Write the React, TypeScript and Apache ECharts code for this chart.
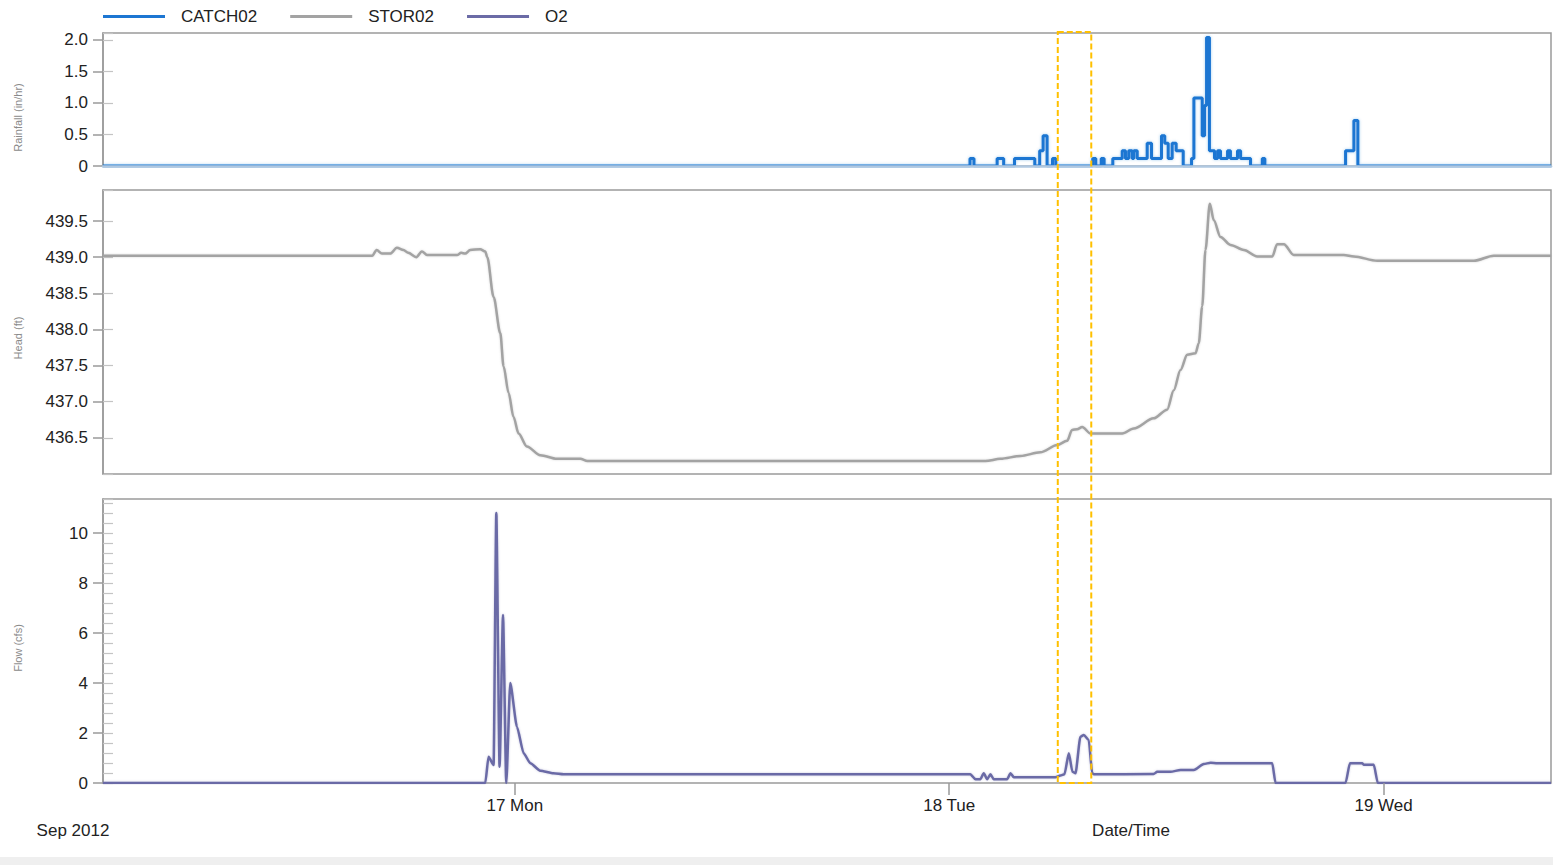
import React, { useEffect, useRef } from "react";
import * as echarts from "echarts";

// Time is expressed in hours from 2012-09-16 00:00
const X_MIN = 1.25;
const X_MAX = 81.25;
const dayTickHours = [24, 48, 72];
const dayTickLabels = ["17 Mon", "18 Tue", "19 Wed"];
const monthLabel = "Sep 2012";
const xAxisTitle = "Date/Time";

const seriesNames = ["CATCH02", "STOR02", "O2"];
const axisNames = ["Rainfall (in/hr)", "Head (ft)", "Flow (cfs)"];

const rainTicks = [0, 0.5, 1.0, 1.5, 2.0];
const headTicks = [436.5, 437.0, 437.5, 438.0, 438.5, 439.0, 439.5];
const flowTicks = [0, 2, 4, 6, 8, 10];

// CATCH02 rainfall (in/hr), step changes [hour, value]
const rainfall = [
  [1.25, 0], [49.15, 0.12], [49.37, 0], [50.65, 0.12], [51.01, 0], [51.61, 0.12], [52.73, 0],
  [53.0, 0.24], [53.19, 0.48], [53.41, 0], [53.71, 0.12], [53.89, 0], [55.93, 0.12], [56.1, 0],
  [56.4, 0.12], [56.56, 0], [57.04, 0.12], [57.56, 0.24], [57.74, 0.12], [57.92, 0.24], [58.11, 0.12],
  [58.2, 0.24], [58.39, 0.12], [58.94, 0.36], [59.18, 0.12], [59.73, 0.48], [59.91, 0.36], [60.1, 0.12],
  [60.32, 0.36], [60.54, 0.24], [60.93, 0], [61.39, 0.12], [61.52, 1.08], [61.98, 0.48], [62.11, 0.96],
  [62.22, 2.04], [62.38, 0.24], [62.66, 0.12], [62.83, 0.24], [62.99, 0.12], [63.38, 0.24], [63.54, 0.12],
  [63.93, 0.24], [64.1, 0.12], [64.65, 0], [65.3, 0.12], [65.44, 0], [69.9, 0.24], [70.36, 0.72],
  [70.58, 0], [81.25, 0],
];

// STOR02 head (ft)
const head = [
  [1.25, 439.02], [16.12, 439.02], [16.37, 439.1], [16.66, 439.05], [17.12, 439.05], [17.49, 439.13],
  [17.85, 439.1], [18.11, 439.06], [18.56, 439.0], [18.87, 439.08], [19.15, 439.03], [20.81, 439.03],
  [21.04, 439.06], [21.26, 439.05], [21.54, 439.1], [22.09, 439.11], [22.37, 439.08], [22.48, 439.0],
  [22.83, 438.45], [23.2, 437.95], [23.38, 437.49], [23.66, 437.12], [23.93, 436.79], [24.21, 436.56],
  [24.67, 436.38], [25.41, 436.26], [26.33, 436.21], [27.62, 436.21], [28.01, 436.18], [50.0, 436.18],
  [50.83, 436.21], [51.94, 436.25], [53.04, 436.3], [53.97, 436.4], [54.52, 436.46], [54.79, 436.61],
  [55.07, 436.62], [55.35, 436.65], [55.81, 436.56], [57.56, 436.56], [58.2, 436.63], [59.3, 436.77],
  [60.04, 436.89], [60.41, 437.16], [60.78, 437.44], [61.15, 437.65], [61.61, 437.67], [61.79, 437.81],
  [61.98, 438.32], [62.16, 439.1], [62.4, 439.74], [62.62, 439.51], [62.99, 439.28], [63.54, 439.17],
  [64.28, 439.1], [65.02, 439.01], [65.85, 439.01], [66.12, 439.18], [66.49, 439.18], [67.04, 439.03],
  [69.8, 439.03], [70.36, 439.01], [71.65, 438.95], [76.99, 438.95], [78.09, 439.02], [81.25, 439.02],
];

// O2 flow (cfs)
const flow = [
  [1.25, 0], [22.37, 0], [22.55, 1.05], [22.83, 0.72], [22.98, 10.8], [23.16, 0.65], [23.35, 6.72],
  [23.53, 0], [23.75, 4.0], [24.12, 2.25], [24.49, 1.19], [24.86, 0.79], [25.41, 0.49], [26.14, 0.39],
  [26.7, 0.35], [49.17, 0.35], [49.45, 0.15], [49.72, 0.15], [49.91, 0.39], [50.1, 0.15], [50.28, 0.35],
  [50.46, 0.15], [51.2, 0.15], [51.39, 0.39], [51.57, 0.23], [53.87, 0.23], [54.15, 0.3], [54.37, 0.35],
  [54.61, 1.19], [54.81, 0.45], [54.98, 0.39], [55.25, 1.85], [55.44, 1.92], [55.71, 1.72], [55.9, 0.4],
  [55.99, 0.35], [59.3, 0.36], [59.49, 0.45], [60.23, 0.45], [60.78, 0.52], [61.52, 0.52], [62.07, 0.76],
  [62.44, 0.81], [62.81, 0.79], [65.85, 0.79], [66.03, 0], [69.9, 0], [70.14, 0.79], [70.82, 0.79],
  [70.91, 0.73], [71.46, 0.73], [71.68, 0],
  [81.25, 0],
];

// highlighted time window (hours)
const highlightWindow = [54.0, 55.85];

const FONT = "'Liberation Sans', Arial, Helvetica, sans-serif";
const AXIS_GRAY = "#9a9a9a";
const TEXT = "#222";
const COLORS = ["#1d76d2", "#a3a3a3", "#6b6ba6"];

const grids = [
  { left: 103, right: 2, top: 33, height: 133 },
  { left: 103, right: 2, top: 190, height: 284 },
  { left: 103, right: 2, top: 499, height: 284 },
];

const yRanges = [
  { min: 0, max: 2.11, ticks: rainTicks, inner: 0.5, namePad: 36, fmt: (v: number) => (v === 0 ? "0" : v.toFixed(1)) },
  { min: 436.0, max: 439.93, ticks: headTicks, inner: 0.5, namePad: 12, fmt: (v: number) => v.toFixed(1) },
  { min: 0, max: 11.36, ticks: flowTicks, inner: 0.4, namePad: 14, fmt: (v: number) => String(Math.round(v)) },
];

export default function App() {
  const ref = useRef<HTMLDivElement>(null);

  useEffect(() => {
    if (!ref.current) return;
    const chart = echarts.init(ref.current, null, { renderer: "svg" });

    const xAxis = grids.map((_, i) => ({
      type: "value",
      gridIndex: i,
      min: X_MIN,
      max: X_MAX,
      z: 10,
      axisLine:
        i === 0
          ? { show: true, onZero: false, lineStyle: { color: "#b0c8e0", width: 2.5 } }
          : { show: false },
      splitLine: { show: false },
      axisTick:
        i === 2
          ? { show: true, customValues: dayTickHours, length: 12, lineStyle: { color: AXIS_GRAY, width: 1.5 } }
          : { show: false },
      axisLabel:
        i === 2
          ? {
              show: true,
              customValues: dayTickHours,
              margin: 14,
              fontSize: 17,
              color: TEXT,
              fontFamily: FONT,
              formatter: (v: number) => dayTickLabels[dayTickHours.indexOf(Math.round(v))] ?? "",
            }
          : { show: false },
    }));

    const yAxis: any[] = [];
    yRanges.forEach((r, i) => {
      yAxis.push({
        type: "value",
        gridIndex: i,
        min: r.min,
        max: r.max,
        position: "left",
        name: axisNames[i],
        nameLocation: "middle",
        nameGap: 80,
        nameTextStyle: { fontSize: 11, color: "#8a8a8a", fontFamily: FONT, padding: [0, r.namePad, 0, 0] },
        axisLine: { show: true, lineStyle: { color: AXIS_GRAY, width: 1.5 } },
        axisTick: { show: true, customValues: r.ticks, length: 10, lineStyle: { color: AXIS_GRAY, width: 1.5 } },
        axisLabel: {
          show: true,
          customValues: r.ticks,
          margin: 15,
          fontSize: 17,
          color: TEXT,
          fontFamily: FONT,
          formatter: r.fmt,
        },
        splitLine: { show: false },
      });
      yAxis.push({
        type: "value",
        gridIndex: i,
        min: r.min,
        max: r.max,
        interval: r.inner,
        position: "left",
        axisLine: { show: false },
        axisTick: { show: true, inside: true, length: 10, lineStyle: { color: "#c4c4c4", width: 1.2 } },
        axisLabel: { show: false },
        splitLine: { show: false },
      });
    });

    const lineCommon = { type: "line", showSymbol: false, symbol: "none", animation: false };

    chart.setOption({
      animation: false,
      backgroundColor: "#fff",
      textStyle: { fontFamily: FONT },
      legend: {
        data: seriesNames,
        left: 98,
        top: 3,
        icon: "rect",
        itemWidth: 62,
        itemHeight: 3,
        itemGap: 33,
        textStyle: { fontSize: 17, color: TEXT, fontFamily: FONT, padding: [0, 0, 0, 11] },
      },
      grid: grids.map((g) => ({ ...g, show: true, borderColor: AXIS_GRAY, borderWidth: 1.5, backgroundColor: "transparent" })),
      xAxis,
      yAxis,
      series: [
        {
          ...lineCommon,
          name: seriesNames[0],
          xAxisIndex: 0,
          yAxisIndex: 0,
          step: "end",
          data: rainfall,
          color: COLORS[0],
          lineStyle: { color: COLORS[0], width: 3, shadowColor: "rgba(29,118,210,0.35)", shadowBlur: 3 },
        },
        {
          ...lineCommon,
          name: seriesNames[1],
          xAxisIndex: 1,
          yAxisIndex: 2,
          smooth: 0.3,
          smoothMonotone: "x",
          data: head,
          color: COLORS[1],
          lineStyle: { color: COLORS[1], width: 2.5, shadowColor: "rgba(160,160,160,0.4)", shadowBlur: 2 },
        },
        {
          ...lineCommon,
          name: seriesNames[2],
          xAxisIndex: 2,
          yAxisIndex: 4,
          smooth: 0.2,
          smoothMonotone: "x",
          data: flow,
          color: COLORS[2],
          lineStyle: { color: COLORS[2], width: 2.5, shadowColor: "rgba(107,107,166,0.35)", shadowBlur: 2 },
        },
      ],
    });

    const x0 = chart.convertToPixel({ xAxisIndex: 0 }, highlightWindow[0]) as number;
    const x1 = chart.convertToPixel({ xAxisIndex: 0 }, highlightWindow[1]) as number;
    const top = grids[0].top - 1;
    const bottom = grids[2].top + grids[2].height;

    chart.setOption({
      graphic: [
        {
          type: "rect",
          z: 100,
          shape: { x: x0, y: top, width: x1 - x0, height: bottom - top },
          style: { fill: "none", stroke: "#FFC000", lineWidth: 2, lineDash: [6, 3] },
        },
        {
          type: "text",
          x: 73,
          y: 830,
          style: { text: monthLabel, fontSize: 17, fill: TEXT, fontFamily: FONT, textAlign: "center", textVerticalAlign: "middle" },
        },
        {
          type: "text",
          x: 1131,
          y: 830,
          style: { text: xAxisTitle, fontSize: 17, fill: TEXT, fontFamily: FONT, textAlign: "center", textVerticalAlign: "middle" },
        },
      ],
    });

    return () => chart.dispose();
  }, []);

  return (
    <div style={{ position: "fixed", left: 0, top: 0, width: 1553, height: 865, background: "#fff" }}>
      <div ref={ref} style={{ width: 1553, height: 857 }} />
      <div style={{ height: 8, background: "#efefef" }} />
    </div>
  );
}
